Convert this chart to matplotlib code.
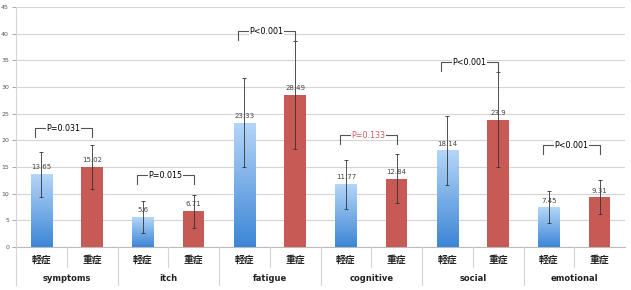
import numpy as np
import matplotlib
matplotlib.use("Agg")
import matplotlib.pyplot as plt
from matplotlib.colors import LinearSegmentedColormap
from matplotlib.transforms import blended_transform_factory

plt.rcParams['font.family'] = ['DejaVu Sans', 'Noto Sans CJK JP']

# -----------------------------
# data
# -----------------------------
categories = ["symptoms", "itch", "fatigue", "cognitive", "social", "emotional"]
sub_labels = ["軽症", "重症"]
mild = [13.65, 5.6, 23.33, 11.77, 18.14, 7.45]
severe = [15.02, 6.71, 28.49, 12.84, 23.9, 9.31]
mild_err = [4.2, 2.95, 8.3, 4.6, 6.5, 3.0]
severe_err = [4.1, 3.1, 10.1, 4.55, 8.9, 3.2]
p_texts = ["P=0.031", "P=0.015", "P<0.001", "P=0.133", "P<0.001", "P<0.001"]
p_levels = [22.3, 13.5, 40.5, 21.0, 34.6, 19.1]
p_significant = [True, True, True, False, True, True]

RED = "#c85a55"
GRID = "#d4d4d4"
blue_cmap = LinearSegmentedColormap.from_list("bl", ["#3c86d6", "#b5d6f8"])

fig = plt.figure(figsize=(6.31, 2.90), dpi=100)
ax = fig.add_axes([16 / 631, 43 / 290, (625 - 16) / 631, 240 / 290])

n = len(categories)
x_mild = np.arange(n) * 2
x_sev = x_mild + 1
w = 0.42

# bars
bars_m = ax.bar(x_mild, mild, width=w, color="none", edgecolor="none", zorder=3)
bars_s = ax.bar(x_sev, severe, width=w, color=RED, edgecolor="none", zorder=3)

# gradient fill for the blue bars (light on top, dark at the bottom)
grad = np.linspace(0, 1, 256).reshape(-1, 1)
for b in bars_m:
    x0, y0 = b.get_x(), b.get_y()
    im = ax.imshow(grad, cmap=blue_cmap, origin="lower", aspect="auto",
                   extent=(x0, x0 + b.get_width(), y0, y0 + b.get_height()), zorder=3)
    im.set_clip_path(b)

# error bars
ax.errorbar(x_mild, mild, yerr=mild_err, fmt="none", ecolor="#333333",
            elinewidth=0.6, capsize=1.6, capthick=0.6, zorder=4)
ax.errorbar(x_sev, severe, yerr=severe_err, fmt="none", ecolor="#333333",
            elinewidth=0.6, capsize=1.6, capthick=0.6, zorder=4)

# value labels
for xs, vals in ((x_mild, mild), (x_sev, severe)):
    for xi, v in zip(xs, vals):
        ax.text(xi, v + 0.7, f"{v:g}", ha="center", va="bottom",
                fontsize=5, color="#444444", zorder=5)

# p-value brackets
for i in range(n):
    y = p_levels[i]
    xl, xr = x_mild[i] - 0.12, x_sev[i]
    ax.plot([xl, xl, xr, xr], [y - 1.6, y, y, y - 1.6], color="#555555",
            lw=0.8, zorder=5, clip_on=False)
    col = "black" if p_significant[i] else "#d65a64"
    ax.text((xl + xr) / 2, y, p_texts[i], ha="center", va="center",
            fontsize=5.8, color=col, zorder=6,
            bbox=dict(facecolor="white", edgecolor="none", pad=0.3))

# axes styling
ax.set_xlim(-0.5, 2 * n - 0.5)
ax.set_ylim(0, 45)
ax.set_yticks(np.arange(0, 46, 5))
ax.yaxis.grid(True, color=GRID, lw=0.8, zorder=0)
ax.set_axisbelow(True)
for s in ("top", "right", "bottom"):
    ax.spines[s].set_visible(False)
ax.spines["left"].set_color(GRID)
ax.tick_params(axis="y", length=3, width=0.6, color="#999999",
               labelsize=4.5, labelcolor="#555555", pad=2)
ax.set_xticks([])

# category table below the axis
tr = blended_transform_factory(ax.transData, ax.transAxes)
ax.plot([-0.5, 2 * n - 0.5], [0, 0], color="#bbbbbb", lw=0.8, transform=tr, clip_on=False)
ax.plot([-0.5, -0.5], [0, -0.16], color=GRID, lw=0.8, transform=tr, clip_on=False)
for i in range(n):
    ax.plot([x_mild[i] + 0.5] * 2, [0, -0.085], color=GRID, lw=0.8,
            transform=tr, clip_on=False)
    if i < n - 1:
        ax.plot([x_sev[i] + 0.5] * 2, [0, -0.16], color=GRID, lw=0.8,
                transform=tr, clip_on=False)
    for xi, lab in ((x_mild[i], sub_labels[0]), (x_sev[i], sub_labels[1])):
        ax.text(xi, -0.052, lab, ha="center", va="center", fontsize=7,
                fontweight="bold", color="#222222", transform=tr,
                family=["Noto Sans CJK JP", "DejaVu Sans"])
    ax.text(x_mild[i] + 0.5, -0.133, categories[i], ha="center", va="center",
            fontsize=6, fontweight="bold", color="#222222", transform=tr)

fig.savefig("out.png", dpi=100)
